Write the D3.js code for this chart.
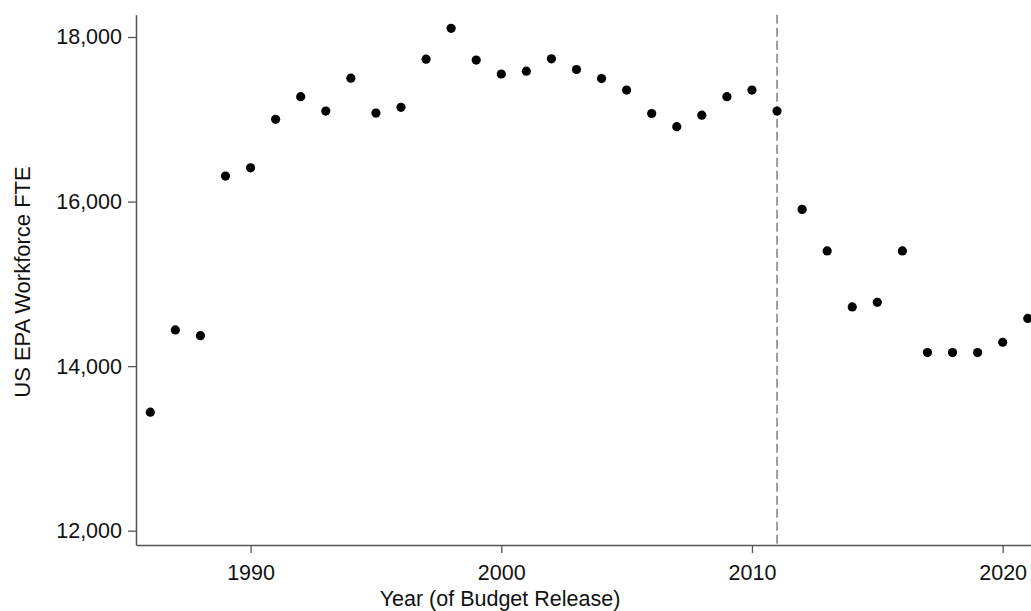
<!DOCTYPE html>
<html>
<head>
<meta charset="utf-8">
<script src="https://cdn.jsdelivr.net/npm/d3@7"></script>
<style>
  body { margin: 0; background: #fff; }
  svg text { font-family: "Liberation Sans", Arial, Helvetica, sans-serif; fill: #111; }
</style>
</head>
<body>
<div id="chart"></div>
<script>
const years = [1986, 1987, 1988, 1989, 1990, 1991, 1992, 1993, 1994, 1995, 1996, 1997, 1998, 1999, 2000,
    2001, 2002, 2003, 2004, 2005, 2006, 2007, 2008, 2009, 2010, 2011, 2012, 2013, 2014, 2015, 2016,
    2017, 2018, 2019, 2020, 2021];
const fte = [13440, 14440, 14370, 16310, 16410, 17000, 17275, 17100, 17500, 17075, 17145, 17730, 18105,
    17720, 17550, 17585, 17735, 17605, 17495, 17355, 17070, 16910, 17050, 17275, 17355, 17100,
    15905, 15400, 14720, 14775, 15400, 14165, 14165, 14165, 14290, 14580];
const yTicks = [12000, 14000, 16000, 18000];
const xTicks = [1990, 2000, 2010, 2020];
const markerYear = 2011;

const props = {
    width: 1031,
    height: 611,
    left: 136,
    top: 14.7,
    bottom: 545,
    axis: {stroke: "#555", strokeWidth: 1.5},
    dot: {radius: 4.6, fill: "#000"},
    marker: {stroke: "#888", strokeWidth: 1.6, dash: "9,4"},
    fontSize: 21.5
};

const svg = d3.select("#chart").append("svg")
    .attr("width", props.width)
    .attr("height", props.height);

const x = d3.scaleLinear().domain([1985.43, 2021.13]).range([props.left, props.width]);
const y = d3.scaleLinear().domain([11826, 18271]).range([props.bottom, props.top]);

// marker line for 2011 budget
svg.append("line")
    .attr("x1", x(markerYear)).attr("x2", x(markerYear))
    .attr("y1", props.top).attr("y2", props.bottom)
    .attr("stroke", props.marker.stroke)
    .attr("stroke-width", props.marker.strokeWidth)
    .attr("stroke-dasharray", props.marker.dash);

const yAxis = svg.append("g")
    .attr("transform", `translate(${props.left},0)`)
    .call(d3.axisLeft(y).tickValues(yTicks).tickFormat(d3.format(",")).tickSize(8).tickSizeOuter(0).tickPadding(6));

const xAxis = svg.append("g")
    .attr("transform", `translate(0,${props.bottom})`)
    .call(d3.axisBottom(x).tickValues(xTicks).tickFormat(d3.format("d")).tickSize(8).tickSizeOuter(0).tickPadding(12));

[yAxis, xAxis].forEach((g) => {
    g.select(".domain").attr("stroke", props.axis.stroke).attr("stroke-width", props.axis.strokeWidth);
    g.selectAll(".tick line").attr("stroke", props.axis.stroke).attr("stroke-width", 1.3);
    g.selectAll(".tick text")
        .attr("font-size", props.fontSize)
        .attr("font-family", "Liberation Sans, Arial, sans-serif")
        .attr("fill", "#111");
});

svg.append("g")
    .selectAll("circle")
    .data(years.map((yr, i) => ({year: yr, value: fte[i]})))
    .join("circle")
    .attr("cx", (d) => x(d.year))
    .attr("cy", (d) => y(d.value))
    .attr("r", props.dot.radius)
    .attr("fill", props.dot.fill);

svg.append("text")
    .attr("x", 500)
    .attr("y", 606)
    .attr("text-anchor", "middle")
    .attr("font-size", props.fontSize)
    .text("Year (of Budget Release)");

svg.append("text")
    .attr("transform", `translate(30,282) rotate(-90)`)
    .attr("text-anchor", "middle")
    .attr("font-size", props.fontSize + 0.5)
    .text("US EPA Workforce FTE");
</script>
</body>
</html>
